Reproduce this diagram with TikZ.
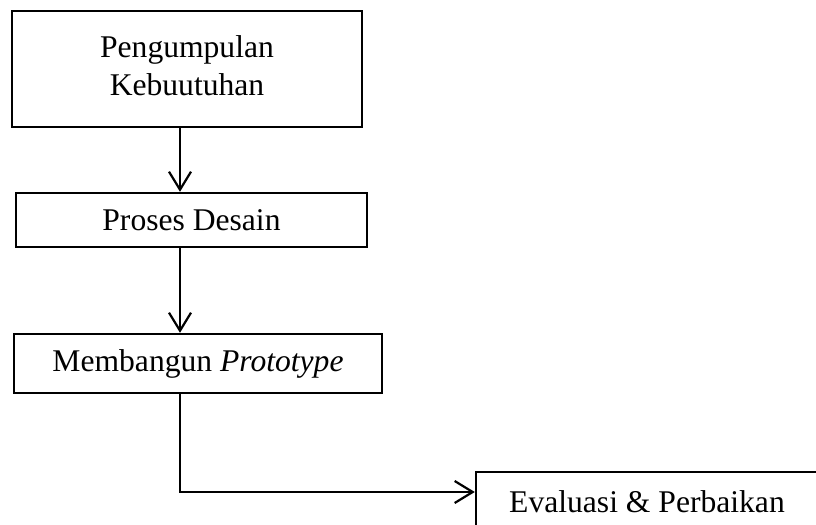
\documentclass[tikz,border=0pt]{standalone}
\usepackage{fontspec}
\setmainfont{Liberation Serif}
\usepackage{tikz}
\usetikzlibrary{shapes,arrows.meta,positioning,calc}

\begin{document}
\begin{tikzpicture}[x=0.5pt,y=-0.5pt,
        tahap/.style={draw, line width=1.2pt, align=center, inner sep=0pt,
            font=\fontsize{15.8}{19}\selectfont},
        panah/.style={line width=1.2pt, -{Straight Barb[length=9pt,width=11pt,line width=1.1pt]}},
        panahtipis/.style={line width=0.7pt, -{Straight Barb[length=9pt,width=11pt,line width=1.1pt]}}]
    \useasboundingbox (0,0) rectangle (816,525);
    % tahapan prototyping
    \node[tahap, minimum width=175pt, minimum height=58pt] (kebutuhan) at (187,69) {\raisebox{3pt}{\begin{tabular}{@{}c@{}}Pengumpulan\\Kebuutuhan\end{tabular}}};
    \node[tahap, minimum width=175.5pt, minimum height=27pt] (desain) at (191.5,220) {Proses Desain};
    \node[tahap, minimum width=184pt, minimum height=29.5pt] (prototype) at (198,363.5) {Membangun \textit{Prototype}};
    \node[tahap, minimum width=171pt, minimum height=29.5pt] (evaluasi) at (647,501.5) {Evaluasi \& Perbaikan};
    % garis penghubung
    \coordinate (belok) at (180,492);
    \draw[panah] (kebutuhan.south -| belok) -- (desain.north -| belok);
    \draw[panah] (desain.south -| belok) -- (prototype.north -| belok);
    \draw[panahtipis] (prototype.south -| belok) -- (belok) -- (evaluasi.west |- belok);
\end{tikzpicture}
\end{document}
